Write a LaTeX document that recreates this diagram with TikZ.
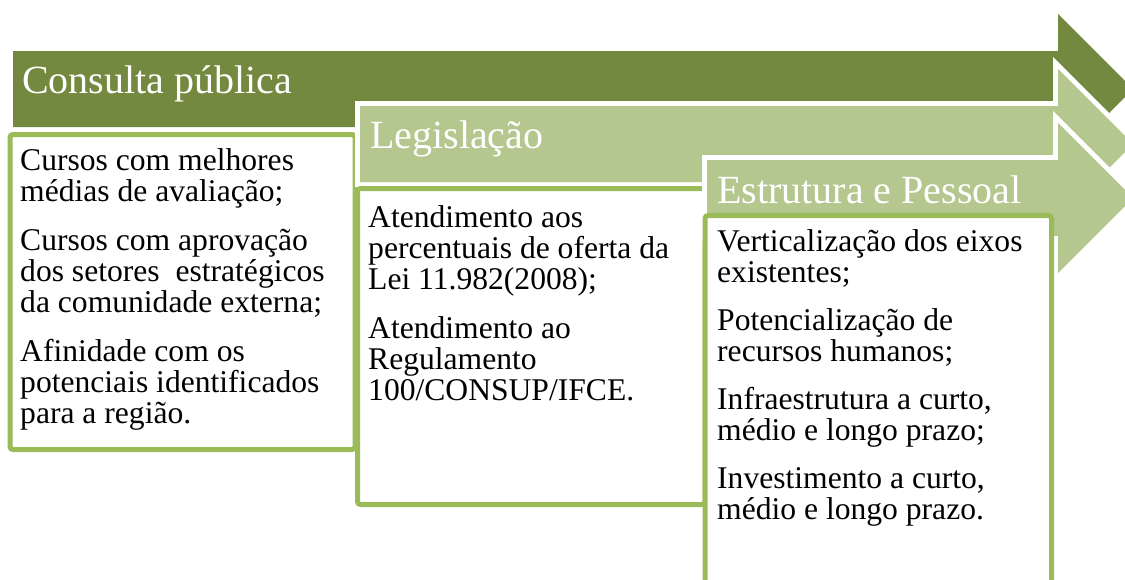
\documentclass[tikz,border=0pt]{standalone}
\usepackage{fontspec}
\setmainfont{Liberation Serif}
\definecolor{darkarrow}{HTML}{72893F}
\definecolor{lightarrow}{HTML}{B3C78F}
\definecolor{boxborder}{HTML}{9BBB59}
\tikzset{
  outlinearrow/.style={draw=white, fill=white, line width=10pt, line join=miter},
  titletext/.style={anchor=base west, inner sep=0pt, text=white, font=\fontsize{40}{40}\selectfont},
  bodytext/.style={anchor=base west, inner sep=0pt, text=black, font=\fontsize{31.6}{31.6}\selectfont},
  textbox/.style={draw=boxborder, fill=white, line width=5pt, rounded corners=3pt},
}
% #1 left x, #2 center y, #3 fill colour
\newcommand{\bandarrow}[3]{%
  \path[outlinearrow] (#1,#2-38) -- (1058,#2-38) -- (1058,#2-75) -- (1133,#2) -- (1058,#2+75) -- (1058,#2+38) -- (#1,#2+38) -- cycle;
  \fill[#3] (#1,#2-38) -- (1058,#2-38) -- (1058,#2-75) -- (1133,#2) -- (1058,#2+75) -- (1058,#2+38) -- (#1,#2+38) -- cycle;
}
\begin{document}
\begin{tikzpicture}[x=1pt, y=-1pt]
\useasboundingbox (0,0) rectangle (1125,579);
\clip (0,0) rectangle (1125,579);

% stage 1
\bandarrow{13}{89}{darkarrow}
\node[titletext] (t1) at (22,93) {Consulta pública};
\draw[textbox] (10,134.5) rectangle (355,449.5);
\node[bodytext] (a1) at (20,170) {Cursos com melhores};
\node[bodytext] (a2) at (20,201) {médias de avaliação;};
\node[bodytext] (a3) at (20,250) {Cursos com aprovação};
\node[bodytext] (a4) at (20,281) {dos setores~ estratégicos};
\node[bodytext] (a5) at (20,312) {da comunidade externa;};
\node[bodytext] (a6) at (20,361) {Afinidade com os};
\node[bodytext] (a7) at (20,392) {potenciais identificados};
\node[bodytext] (a8) at (20,423) {para a região.};

% stage 2
\bandarrow{360}{144}{lightarrow}
\node[titletext] (t2) at (370,148) {Legislação};
\draw[textbox] (357.5,188.5) rectangle (705,504.5);
\node[bodytext] (b1) at (368,227) {Atendimento aos};
\node[bodytext] (b2) at (368,258) {percentuais de oferta da};
\node[bodytext] (b3) at (368,289) {Lei 11.982(2008);};
\node[bodytext] (b4) at (368,338) {Atendimento ao};
\node[bodytext] (b5) at (368,369) {Regulamento};
\node[bodytext] (b6) at (368,400) {100/CONSUP/IFCE.};

% stage 3
\bandarrow{707}{198}{lightarrow}
\node[titletext] (t3) at (717,203) {Estrutura e Pessoal};
\draw[textbox] (705,215.5) rectangle (1051.5,610);
\node[bodytext] (c1) at (717,251) {Verticalização dos eixos};
\node[bodytext] (c2) at (717,282) {existentes;};
\node[bodytext] (c3) at (717,330) {Potencialização de};
\node[bodytext] (c4) at (717,361) {recursos humanos;};
\node[bodytext] (c5) at (717,409) {Infraestrutura a curto,};
\node[bodytext] (c6) at (717,440) {médio e longo prazo;};
\node[bodytext] (c7) at (717,488) {Investimento a curto,};
\node[bodytext] (c8) at (717,519) {médio e longo prazo.};
\end{tikzpicture}
\end{document}
